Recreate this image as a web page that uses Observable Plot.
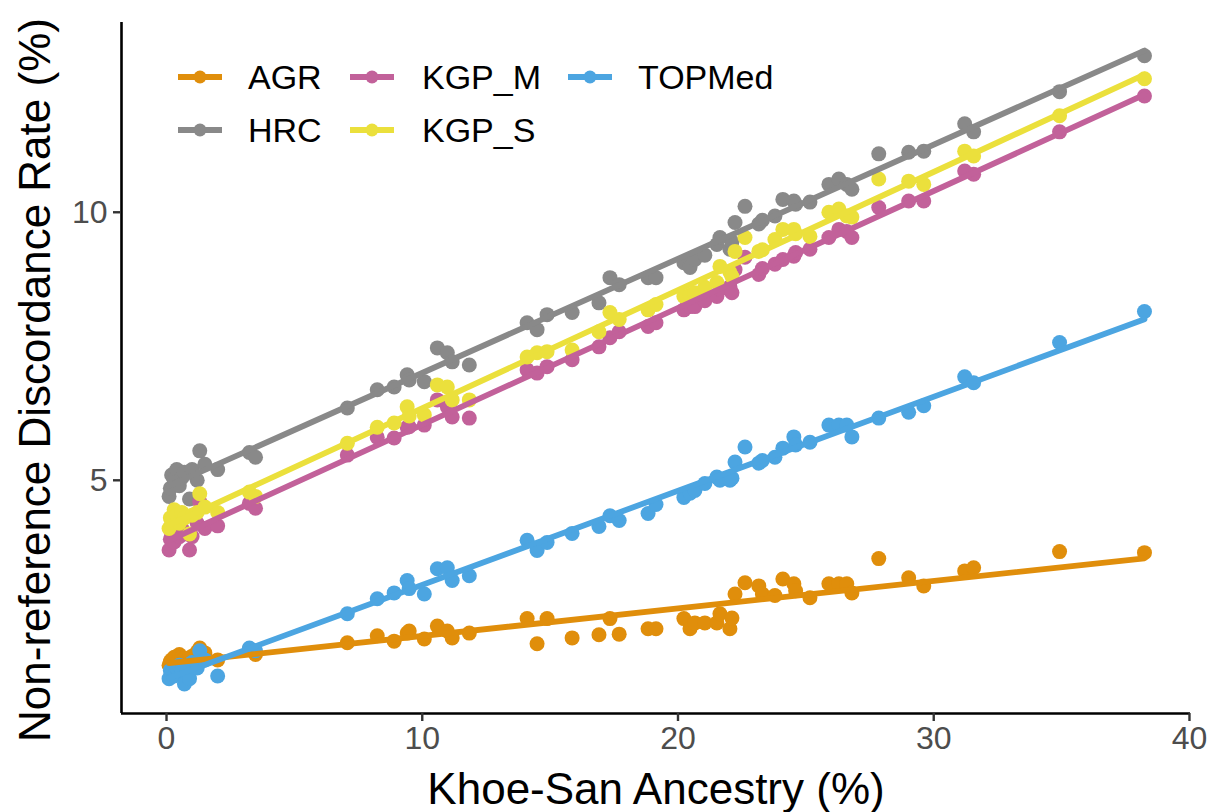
<!DOCTYPE html>
<html><head><meta charset="utf-8">
<script src="https://cdn.jsdelivr.net/npm/d3@7"></script>
<script src="https://cdn.jsdelivr.net/npm/@observablehq/plot@0.6"></script>
<style>
body{margin:0;background:#fff;font-family:"Liberation Sans",Arial,sans-serif;}
#wrap{position:relative;width:1216px;height:812px;overflow:hidden;}
.lg-item{position:absolute;}
.lg-text{position:absolute;font-size:34px;line-height:1;color:#000;white-space:nowrap;transform:translateY(-50%);}
g[aria-label="x-axis tick label"], g[aria-label="y-axis tick label"]{fill:#4d4d4d !important;font-size:32px !important;}
</style></head><body><div id="wrap"></div>
<script>
// ---- data ----
const seriesNames = ["AGR", "HRC", "KGP_M", "KGP_S", "TOPMed"];
const seriesColors = ["#E08E0B", "#898989", "#C2619A", "#EBE03C", "#4CA5E1"];
const ancestry = [
  0.1, 0.15, 0.2, 0.3, 0.4, 0.5, 0.6, 0.7, 0.9, 1.0, 1.2, 1.3, 1.5, 2.0,
  3.24, 3.48,
  7.07, 8.24, 8.9, 9.41, 9.49, 10.08, 10.59, 10.98, 11.17, 11.84,
  14.1, 14.49, 14.88, 15.86, 16.91, 17.34, 17.70, 18.83, 19.14, 20.23,
  20.47, 20.66, 21.05, 21.52, 21.64, 22.03, 22.11, 22.23, 22.62, 23.16,
  23.3, 23.79, 24.1, 24.53, 24.6, 25.16, 25.9, 26.29, 26.6, 26.8,
  27.85, 29.02, 29.61, 31.21, 31.56, 34.92, 38.24
];
const agr = [
  1.55, 1.62, 1.65, 1.7, 1.6, 1.75, 1.7, 1.68, 1.62, 1.72, 1.8, 1.87, 1.78, 1.65,
  1.85, 1.75,
  1.97, 2.10, 2.00, 2.15, 2.19, 2.04, 2.28, 2.19, 2.06, 2.15,
  2.42, 1.95, 2.42, 2.06, 2.12, 2.42, 2.13, 2.23, 2.23, 2.42,
  2.23, 2.34, 2.34, 2.34, 2.51, 2.23, 2.43, 2.88, 3.09, 3.03,
  2.88, 2.85, 3.16, 3.07, 2.94, 2.81, 3.07, 3.07, 3.07, 2.90,
  3.54, 3.18, 3.03, 3.31, 3.37, 3.67, 3.65
];
const hrc = [
  4.7, 4.85, 5.1, 5.0, 5.2, 4.9, 5.05, 5.15, 4.65, 5.2, 5.0, 5.55, 5.3, 5.2,
  5.52, 5.43,
  6.35, 6.69, 6.74, 6.97, 6.87, 6.84, 7.47, 7.38, 7.21, 7.15,
  7.94, 7.81, 8.09, 8.13, 8.31, 8.78, 8.65, 8.78, 8.78, 9.06,
  8.97, 9.12, 9.2, 9.4, 9.53, 9.31, 9.45, 9.81, 10.11, 9.78,
  9.85, 9.93, 10.24, 10.21, 10.15, 10.19, 10.52, 10.62, 10.52, 10.43,
  11.09, 11.12, 11.14, 11.65, 11.5, 12.25, 12.92
];
const kgpM = [
  3.7, 3.9, 4.0, 3.85, 4.05, 3.95, 4.1, 4.0, 3.7, 3.95, 4.2, 4.6, 4.1, 4.15,
  4.57, 4.48,
  5.47, 5.80, 5.79, 5.99, 6.0, 6.03, 6.5, 6.37, 6.18, 6.16,
  7.06, 7.0, 7.12, 7.25, 7.49, 7.66, 7.77, 7.87, 7.94, 8.18,
  8.24, 8.24, 8.35, 8.43, 8.56, 8.61, 8.5, 8.93, 9.16, 8.84,
  8.95, 9.03, 9.12, 9.18, 9.25, 9.31, 9.53, 9.68, 9.64, 9.53,
  10.09, 10.21, 10.21, 10.77, 10.71, 11.5, 12.17
];
const kgpS = [
  4.1, 4.3, 4.2, 4.45, 4.35, 4.2, 4.4, 4.3, 4.0, 4.35, 4.4, 4.75, 4.5, 4.4,
  4.78, 4.7,
  5.69, 5.99, 6.07, 6.37, 6.2, 6.22, 6.78, 6.74, 6.5, 6.5,
  7.30, 7.38, 7.40, 7.43, 7.77, 8.13, 8.0, 8.18, 8.28, 8.43,
  8.45, 8.5, 8.6, 8.69, 8.99, 8.88, 8.8, 9.27, 9.53, 9.27,
  9.3, 9.49, 9.68, 9.68, 9.6, 9.55, 10.0, 10.06, 9.93, 9.91,
  10.62, 10.58, 10.52, 11.14, 11.05, 11.8, 12.49
];
const topmed = [
  1.3, 1.45, 1.4, 1.35, 1.5, 1.55, 1.45, 1.2, 1.3, 1.6, 1.5, 1.82, 1.65, 1.35,
  1.87, 1.82,
  2.51, 2.79, 2.90, 3.13, 2.98, 2.88, 3.35, 3.37, 3.13, 3.22,
  3.88, 3.69, 3.84, 4.01, 4.14, 4.34, 4.25, 4.38, 4.55, 4.68,
  4.76, 4.81, 4.94, 5.06, 5.0, 5.0, 5.04, 5.34, 5.62, 5.32,
  5.37, 5.43, 5.6, 5.81, 5.66, 5.71, 6.03, 6.03, 6.03, 5.81,
  6.16, 6.27, 6.39, 6.93, 6.82, 7.57, 8.15
];
const xTicks = [0, 10, 20, 30, 40];
const yTicks = [5, 10];
const xDomain = [-1.76, 40.04];
const yDomain = [0.65, 13.54];
const xTitle = "Khoe-San Ancestry (%)";
const yTitle = "Non-reference Discordance Rate (%)";

// ---- build long table ----
const valuesBySeries = [agr, hrc, kgpM, kgpS, topmed];
const data = [];
seriesNames.forEach((s, k) => {
  valuesBySeries[k].forEach((v, i) => data.push({series: s, x: ancestry[i], y: v}));
});

const chart = Plot.plot({
  width: 1216, height: 812,
  marginLeft: 121, marginRight: 26, marginTop: 22, marginBottom: 99,
  style: {fontFamily: "Liberation Sans, Arial, sans-serif", background: "#fff", overflow: "visible"},
  x: {domain: xDomain},
  y: {domain: yDomain},
  color: {domain: seriesNames, range: seriesColors},
  marks: [
    Plot.dot(data, {x: "x", y: "y", fill: "series", r: 7.5}),
    Plot.linearRegressionY(data, {x: "x", y: "y", stroke: "series", ci: 0, strokeWidth: 5.8}),
    Plot.ruleX([xDomain[0]], {stroke: "#000", strokeWidth: 2.6}),
    Plot.ruleY([yDomain[0]], {stroke: "#000", strokeWidth: 2.6}),
    Plot.axisX({ticks: xTicks, tickSize: 8, tickPadding: 5, fontSize: 32, label: null, stroke: "#333", strokeWidth: 2.4}),
    Plot.axisY({ticks: yTicks, tickSize: 8, tickPadding: 6, fontSize: 32, label: null, stroke: "#333", strokeWidth: 2.4}),
    Plot.text([xTitle], {text: d => d, frameAnchor: "bottom", dy: 76, fontSize: 44, fill: "#000", lineAnchor: "middle", textAnchor: "middle"}),
    Plot.text([yTitle], {text: d => d, frameAnchor: "left", dx: -86, dy: 12, rotate: -90, fontSize: 44, fill: "#000", lineAnchor: "middle", textAnchor: "middle"})
  ]
});
const wrap = document.getElementById("wrap");
wrap.appendChild(chart);

// ---- legend (inside the panel, top-left) ----
const legendCols = [{key: 178, text: 248}, {key: 350, text: 422}, {key: 568, text: 638}];
const legendRows = [77, 130];
const legendSlots = [[0, 0], [0, 1], [1, 0], [1, 1], [2, 0]];
seriesNames.forEach((s, k) => {
  const [c, r] = legendSlots[k];
  const col = legendCols[c], cy = legendRows[r];
  const key = d3.select(wrap).append("svg")
    .attr("class", "lg-item")
    .style("left", col.key + "px").style("top", (cy - 12) + "px")
    .attr("width", 44).attr("height", 24);
  key.append("line").attr("x1", 0).attr("x2", 44).attr("y1", 12).attr("y2", 12)
    .attr("stroke", seriesColors[k]).attr("stroke-width", 6);
  key.append("circle").attr("cx", 22).attr("cy", 12).attr("r", 6.5).attr("fill", seriesColors[k]);
  d3.select(wrap).append("div").attr("class", "lg-text")
    .style("left", col.text + "px").style("top", cy + "px").text(s);
});
</script></body></html>
